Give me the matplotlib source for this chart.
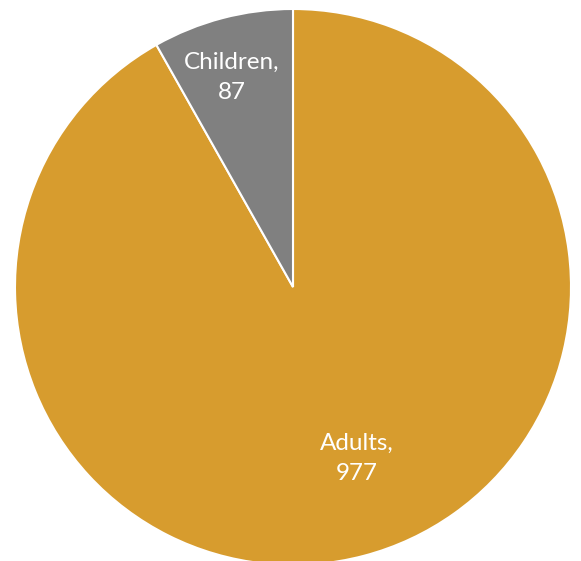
import numpy as np
import matplotlib
matplotlib.use("Agg")
import matplotlib.pyplot as plt

# Chart data
categories = ["Adults", "Children"]
counts = [977, 87]
colors = ["#D79C2E", "#808080"]
# label placement (radius, angle shift in degrees from wedge middle)
label_radius = [0.657, 0.786]
label_shift = [5.8, 1.5]

W, H = 581, 561
fig = plt.figure(figsize=(W / 100, H / 100), dpi=100)
ax = fig.add_axes([0, 0, 1, 1])

wedges, _ = ax.pie(counts, colors=colors, startangle=90, counterclock=False,
                   radius=1.0, wedgeprops=dict(edgecolor="white", linewidth=1.5))

for w, name, val, r, s in zip(wedges, categories, counts, label_radius, label_shift):
    mid = np.deg2rad((w.theta1 + w.theta2) / 2 + s)
    ax.text(r * np.cos(mid), r * np.sin(mid), f"{name},\n{val}",
            ha="center", va="center", color="white", fontsize=17.5,
            family="Lato", linespacing=1.55)

# pie centre at (293, 287) px from top-left, radius 278 px
scale = 278
ax.set_xlim(-293 / scale, (W - 293) / scale)
ax.set_ylim(-(H - 287) / scale, 287 / scale)
ax.set_aspect("auto")
ax.axis("off")

fig.savefig("out.png", dpi=100)
